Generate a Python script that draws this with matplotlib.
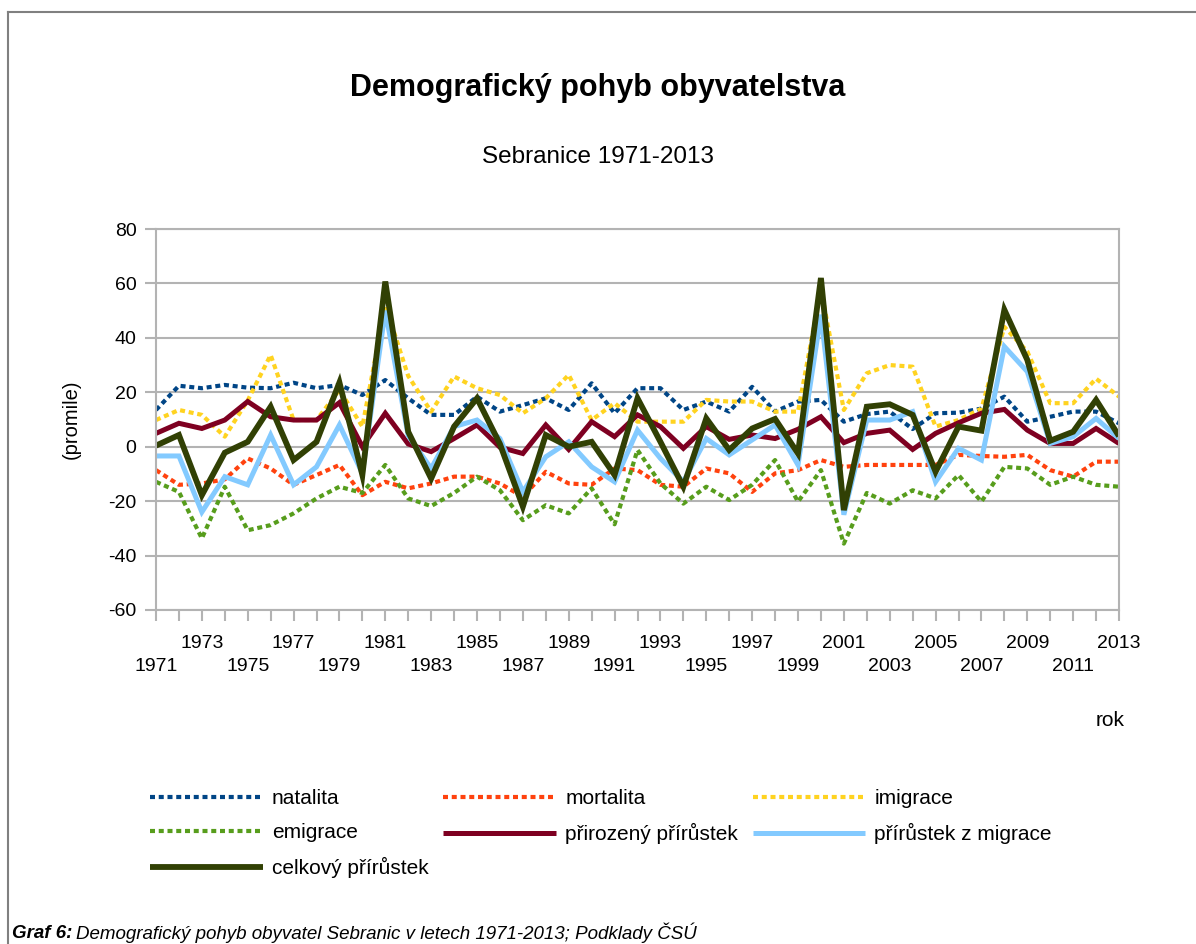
import numpy as np
import matplotlib
matplotlib.use('Agg')
import matplotlib.pyplot as plt
from matplotlib.lines import Line2D

plt.rcParams['font.family'] = ['Liberation Sans', 'DejaVu Sans']
plt.rcParams['axes.unicode_minus'] = False

years = list(range(1971, 2014))

natalita = [13.5, 22.4, 21.5, 22.7, 21.7, 21.5, 23.5, 21.5, 22.7, 19.0, 24.5,
            17.8, 11.7, 11.7, 18.4, 12.9, 15.3, 17.8, 13.5, 23.3, 12.3,
            21.5, 21.5, 13.5, 16.6, 12.9, 22.0, 12.9, 16.6, 17.2, 9.2,
            12.0, 12.9, 6.5, 12.3, 12.5, 14.0, 18.4, 9.2, 11.0, 12.9, 12.9, 8.6]
mortalita = [-8.6, -14.0, -13.5, -12.0, -4.3, -8.0, -14.0, -10.4, -6.7, -17.8, -12.9,
             -15.3, -13.5, -11.0, -11.0, -13.5, -18.4, -9.2, -13.5, -14.0, -8.0,
             -8.6, -14.0, -14.7, -8.0, -9.8, -16.6, -9.8, -8.6, -4.9, -7.4,
             -6.7, -6.7, -6.7, -6.7, -3.0, -3.4, -3.7, -3.0, -8.6, -11.0, -5.5, -5.5]
imigrace = [9.8, 13.5, 11.7, 3.7, 17.0, 33.7, 9.8, 9.8, 20.9, 7.4, 52.0,
            26.0, 12.9, 25.8, 21.5, 19.0, 12.3, 17.8, 26.4, 9.8, 16.0,
            9.2, 9.2, 9.2, 17.2, 16.6, 16.6, 12.9, 12.9, 58.0, 13.5,
            27.0, 30.0, 29.4, 7.4, 9.8, 14.0, 44.0, 35.0, 16.0, 16.0, 25.0, 18.4]
emigrace = [-12.9, -16.6, -33.7, -14.7, -30.7, -28.8, -24.5, -19.0, -14.7, -17.0, -6.7,
            -19.0, -21.8, -17.0, -11.0, -16.0, -27.0, -21.5, -24.5, -15.3, -28.5,
            -1.2, -13.5, -20.9, -14.7, -19.6, -14.0, -4.9, -20.2, -8.6, -35.6,
            -17.0, -20.9, -16.0, -19.0, -10.4, -20.2, -7.4, -8.0, -14.0, -11.0, -14.0, -14.7]
prirozeny = [4.9, 8.6, 6.7, 9.8, 16.6, 11.0, 9.8, 9.8, 16.2, 0.0, 12.3,
             1.0, -1.8, 3.0, 8.0, -0.2, -2.5, 8.0, -1.0, 9.2, 3.7,
             11.7, 7.4, -0.6, 7.4, 2.7, 4.3, 3.0, 6.4, 11.0, 1.5,
             4.9, 6.1, -1.0, 4.9, 8.8, 12.3, 13.7, 6.1, 1.2, 1.2, 6.7, 1.2]
migrace = [-3.4, -3.4, -24.0, -11.0, -14.0, 4.3, -14.0, -7.4, 8.0, -9.8, 50.0,
           4.0, -8.0, 7.4, 9.8, 3.0, -16.6, -3.7, 1.8, -7.4, -12.9,
           6.1, -4.3, -12.9, 3.0, -3.0, 2.5, 8.0, -6.7, 48.5, -25.0,
           9.8, 9.8, 12.9, -12.9, -0.6, -4.9, 36.8, 27.6, 1.2, 3.7, 10.4, 3.0]
celkovy = [0.4, 4.3, -17.8, -2.2, 1.8, 14.7, -4.9, 1.8, 23.6, -10.4, 60.7,
           5.5, -11.7, 7.4, 17.8, 1.0, -22.0, 4.3, 0.0, 1.8, -10.4,
           17.8, 1.8, -14.7, 10.4, -1.2, 6.7, 10.2, -2.5, 62.0, -23.3,
           14.7, 15.6, 11.7, -9.2, 7.4, 5.9, 50.3, 31.9, 2.2, 5.5, 17.2, 3.9]

series_names = ['natalita', 'mortalita', 'imigrace', 'emigrace',
                'přirozený přírůstek', 'přírůstek z migrace', 'celkový přírůstek']
series_values = [natalita, mortalita, imigrace, emigrace, prirozeny, migrace, celkovy]
series_colors = ['#004586', '#ff420e', '#ffd320', '#579d1c', '#7e0021', '#83caff', '#314004']
DOTTED = (0, (1.2, 0.9))
series_styles = [DOTTED, DOTTED, DOTTED, DOTTED, '-', '-', '-']
series_widths = [3.0, 3.0, 3.0, 3.0, 3.6, 3.6, 4.2]

GRID_COLOR = '#b3b3b3'

fig = plt.figure(figsize=(11.96, 9.44), dpi=100)
ax = fig.add_axes([156 / 1196, 1 - 610 / 944, (1119 - 156) / 1196, (610 - 229) / 944])

handles = []
for name, vals, col, ls, lw in zip(series_names, series_values, series_colors,
                                    series_styles, series_widths):
    line, = ax.plot(years, vals, color=col, linestyle=ls, linewidth=lw,
                    label=name, solid_capstyle='butt', dash_capstyle='butt',
                    solid_joinstyle='miter')
    handles.append(line)

ax.set_xlim(1971, 2013)
ax.set_ylim(-60, 80)
ax.set_yticks(np.arange(-60, 81, 20))
ax.yaxis.grid(True, color=GRID_COLOR, linewidth=1.5)
ax.set_axisbelow(True)
for sp in ax.spines.values():
    sp.set_color(GRID_COLOR)
    sp.set_linewidth(1.5)

ax.set_xticks(years)
xlabels = []
for i, y in enumerate(years):
    if i % 2 == 1:
        xlabels.append('')
    elif (i // 2) % 2 == 0:
        xlabels.append('\n' + str(y))
    else:
        xlabels.append(str(y))
ax.set_xticklabels(xlabels, fontsize=14, linespacing=1.45)
ax.tick_params(axis='x', length=8, width=1.5, color=GRID_COLOR, pad=10)
ax.tick_params(axis='y', length=8, width=1.5, color=GRID_COLOR, pad=6, labelsize=14)

ax.set_ylabel('(promile)', fontsize=14.5, labelpad=20)
fig.text(1110 / 1196, 1 - 721 / 944, 'rok', fontsize=15, ha='center', va='center')

fig.text(0.5, 1 - 88 / 944, 'Demografický pohyb obyvatelstva', fontsize=22,
         fontweight='bold', ha='center', va='center')
fig.text(0.5, 1 - 157 / 944, 'Sebranice 1971-2013', fontsize=17.5,
         ha='center', va='center')

# legend filled row by row like the original (3 columns)
order = [0, 3, 6, 1, 4, 2, 5]
fig.legend([handles[i] for i in order], [series_names[i] for i in order],
           ncol=3, loc='upper left', bbox_to_anchor=(150 / 1196, 1 - 789 / 944),
           frameon=False, fontsize=15, handlelength=5.4, handletextpad=0.45,
           columnspacing=0.7, labelspacing=0.72, borderpad=0, borderaxespad=0)

# outer frame (top and left edges)
fig.add_artist(Line2D([8 / 1196, 1], [1 - 12 / 944, 1 - 12 / 944],
                      transform=fig.transFigure, color='#808080', linewidth=1.5))
fig.add_artist(Line2D([8 / 1196, 8 / 1196], [0, 1 - 12 / 944],
                      transform=fig.transFigure, color='#808080', linewidth=1.5))

# caption
narrow = ['Liberation Sans Narrow', 'Liberation Sans', 'DejaVu Sans']
cap1 = fig.text(12 / 1196, 1 - 933 / 944, 'Graf 6:', fontsize=13.5, family=narrow,
                fontweight='bold', fontstyle='italic', va='center', ha='left')
renderer = fig.canvas.get_renderer()
bb = cap1.get_window_extent(renderer=renderer)
fig.text(bb.x1 / fig.bbox.width + 4 / 1196, 1 - 933 / 944,
         'Demografický pohyb obyvatel Sebranic v letech 1971-2013; Podklady ČSÚ',
         fontsize=13.5, family=narrow, fontstyle='italic', va='center', ha='left')

fig.savefig('out.png', dpi=100)
